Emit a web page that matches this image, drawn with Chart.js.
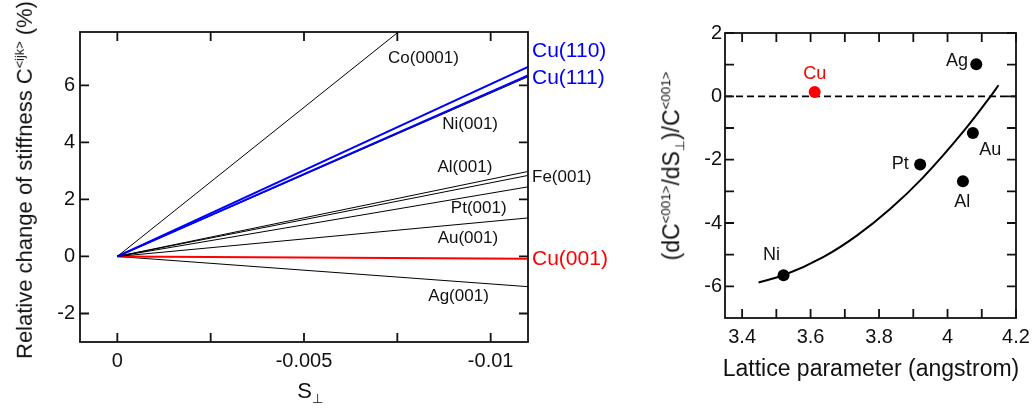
<!DOCTYPE html>
<html>
<head>
<meta charset="utf-8">
<script src="https://cdn.jsdelivr.net/npm/chart.js@4.4.1/dist/chart.umd.min.js"></script>
<style>
  html, body { margin: 0; padding: 0; background: #fff; }
  #page { position: relative; width: 1032px; height: 408px; overflow: hidden;
          font-family: "Liberation Sans", Arial, sans-serif; color: #111; }
  canvas { position: absolute; top: 0; }
  #stiffChart { left: 0; }
  #ratioChart { left: 640px; }
  .title { position: absolute; white-space: nowrap; line-height: 1; font-size: 22px;
           transform: translate(-50%, -50%); }
  .title.rot { transform: translate(-50%, -50%) rotate(-90deg); }
  .title sup, .title sub { font-size: 0.58em; }
</style>
</head>
<body>
<div id="page">
  <canvas id="stiffChart" width="640" height="408"></canvas>
  <canvas id="ratioChart" width="392" height="408"></canvas>
  <div class="title rot" style="left:25px; top:180px;">Relative change of stiffness C<sup>&lt;ijk&gt;</sup> (%)</div>
  <div class="title" style="left:310px; top:393px;">S<sub>⊥</sub></div>
  <div class="title rot" style="left:673px; top:166px; font-size:23px;">(dC<sup>&lt;001&gt;</sup>/dS<sub>⊥</sub>)/C<sup>&lt;001&gt;</sup></div>
  <div class="title" style="left:871px; top:368px; font-size:23px;">Lattice parameter (angstrom)</div>
</div>

<script>
// left panel: stiffness change vs strain, straight lines from origin
const lineNames = ['Co(0001)', 'Cu(110)', 'Cu(111)', 'Ni(001)', 'Al(001)', 'Fe(001)', 'Pt(001)', 'Au(001)', 'Cu(001)', 'Ag(001)'];
const strainEnd = -0.011;
const stiffAtEnd = [11.5, 6.65, 6.35, 6.30, 2.98, 2.84, 2.44, 1.35, -0.08, -1.06];
const strainTicks = [0, -0.005, -0.01];
const stiffTicks = [-2, 0, 2, 4, 6];

// right panel: d(C001)/dS / C001 vs lattice parameter
const metals = ['Ni', 'Cu', 'Pt', 'Al', 'Au', 'Ag'];
const latticeA = [3.521, 3.612, 3.920, 4.045, 4.074, 4.084];
const slopeRatio = [-5.65, 0.14, -2.15, -2.68, -1.16, 1.01];
const fitA = [3.448, 3.521, 3.638, 3.736, 3.833, 3.926, 4.047, 4.125, 4.149];
const fitRatio = [-5.88, -5.65, -5.07, -4.39, -3.55, -2.59, -1.10, -0.01, 0.35];
const latticeTicks = [3.4, 3.6, 3.8, 4, 4.2];
const ratioTicks = [-6, -4, -2, 0, 2];

const lineColors = ['#000', '#0000ff', '#0000ff', '#000', '#000', '#000', '#000', '#000', '#ff0000', '#000'];
const lineWidths = [1, 2, 2, 1, 1, 1, 1, 1, 2, 1];
const FONT = '"Liberation Sans", Arial, sans-serif';
const INK = '#111';

function makeFrame(xMarks, yMarks) {
    return {
        id: 'frame',
        afterDatasetsDraw(chart) {
            const { ctx, chartArea: a, scales: { x, y } } = chart;
            const len = 9;
            ctx.save();
            ctx.strokeStyle = INK;
            ctx.lineWidth = 1.8;
            ctx.beginPath();
            xMarks.forEach(v => {
                const px = x.getPixelForValue(v);
                ctx.moveTo(px, a.bottom); ctx.lineTo(px, a.bottom - len);
                ctx.moveTo(px, a.top); ctx.lineTo(px, a.top + len);
            });
            yMarks.forEach(v => {
                const py = y.getPixelForValue(v);
                ctx.moveTo(a.left, py); ctx.lineTo(a.left + len, py);
                ctx.moveTo(a.right, py); ctx.lineTo(a.right - len, py);
            });
            ctx.stroke();
            ctx.strokeRect(a.left, a.top, a.right - a.left, a.bottom - a.top);
            ctx.restore();
        }
    };
}

function makeLabels(items) {
    return {
        id: 'labels',
        afterDatasetsDraw(chart) {
            const { ctx, chartArea: a, scales: { x, y } } = chart;
            ctx.save();
            ctx.textBaseline = 'middle';
            items.forEach(it => {
                ctx.font = it.size + 'px ' + FONT;
                ctx.fillStyle = it.color || INK;
                ctx.textAlign = it.edge ? 'left' : 'center';
                const px = it.edge ? a.right + 4 : x.getPixelForValue(it.x);
                ctx.fillText(it.text, px, y.getPixelForValue(it.y));
            });
            ctx.restore();
        }
    };
}

function stepMarks(from, to, step) {
    const out = [];
    for (let v = from; v <= to + 1e-9; v += step) out.push(+v.toFixed(4));
    return out;
}

const tickFont = { family: FONT, size: 20 };

// left chart
const stiffLabels = [
    { text: 'Co(0001)', x: -0.0082, y: 6.96, size: 17 },
    { text: 'Ni(001)', x: -0.00945, y: 4.65, size: 17 },
    { text: 'Al(001)', x: -0.00931, y: 3.11, size: 17 },
    { text: 'Pt(001)', x: -0.00968, y: 1.70, size: 17 },
    { text: 'Au(001)', x: -0.00939, y: 0.62, size: 17 },
    { text: 'Ag(001)', x: -0.00914, y: -1.39, size: 17 },
    { text: 'Cu(110)', edge: true, y: 7.18, size: 21, color: '#0000ff' },
    { text: 'Cu(111)', edge: true, y: 6.25, size: 21, color: '#0000ff' },
    { text: 'Fe(001)', edge: true, y: 2.78, size: 17 },
    { text: 'Cu(001)', edge: true, y: -0.10, size: 21, color: '#ff0000' }
];

new Chart(document.getElementById('stiffChart'), {
    type: 'scatter',
    data: {
        datasets: lineNames.map((name, i) => ({
            label: name,
            data: [{ x: 0, y: 0 }, { x: strainEnd, y: stiffAtEnd[i] }],
            showLine: true,
            borderColor: lineColors[i],
            borderWidth: lineWidths[i],
            pointRadius: 0
        }))
    },
    options: {
        responsive: false,
        animation: false,
        layout: { padding: { left: 0, top: 32, right: 112, bottom: 0 } },
        plugins: { legend: { display: false }, tooltip: { enabled: false } },
        scales: {
            x: {
                type: 'linear', reverse: true, min: -0.011, max: 0.001,
                grid: { display: false, drawTicks: false }, border: { display: false },
                afterBuildTicks: s => { s.ticks = strainTicks.map(v => ({ value: v })); },
                afterFit: s => { s.height = 66; s.paddingLeft = 0; s.paddingRight = 0; },
                ticks: { font: tickFont, color: INK, padding: 7, maxRotation: 0, autoSkip: false,
                         callback: v => v === 0 ? '0' : String(+v.toFixed(4)) }
            },
            y: {
                type: 'linear', min: -3, max: 7.87,
                grid: { display: false, drawTicks: false }, border: { display: false },
                afterBuildTicks: s => { s.ticks = stiffTicks.map(v => ({ value: v })); },
                afterFit: s => { s.width = 80; },
                ticks: { font: tickFont, color: INK, padding: 5, callback: v => String(v) }
            }
        }
    },
    plugins: [makeFrame(stepMarks(-0.01, 0, 0.0025), stiffTicks), makeLabels(stiffLabels)]
});

// right chart
const ratioLabels = [
    { text: 'Cu', x: 3.612, y: 0.69, size: 18, color: '#ff0000' },
    { text: 'Ag', x: 4.028, y: 1.12, size: 18 },
    { text: 'Au', x: 4.125, y: -1.70, size: 18 },
    { text: 'Pt', x: 3.862, y: -2.13, size: 18 },
    { text: 'Al', x: 4.043, y: -3.33, size: 18 },
    { text: 'Ni', x: 3.486, y: -5.02, size: 18 }
];

new Chart(document.getElementById('ratioChart'), {
    type: 'scatter',
    data: {
        datasets: [
            {
                label: 'metals',
                data: metals.map((m, i) => ({ x: latticeA[i], y: slopeRatio[i] })),
                pointRadius: 6,
                pointBorderWidth: 0,
                pointBackgroundColor: metals.map(m => m === 'Cu' ? '#ff0000' : '#000'),
                order: 0
            },
            {
                label: 'fit',
                data: fitA.map((a, i) => ({ x: a, y: fitRatio[i] })),
                showLine: true,
                borderColor: '#000',
                borderWidth: 2,
                pointRadius: 0,
                cubicInterpolationMode: 'monotone',
                order: 1
            },
            {
                label: 'zero',
                data: [{ x: 3.35, y: 0 }, { x: 4.2, y: 0 }],
                showLine: true,
                borderColor: '#000',
                borderWidth: 1.6,
                borderDash: [7, 4],
                pointRadius: 0,
                order: 2
            }
        ]
    },
    options: {
        responsive: false,
        animation: false,
        layout: { padding: { left: 0, top: 33, right: 16, bottom: 0 } },
        plugins: { legend: { display: false }, tooltip: { enabled: false } },
        scales: {
            x: {
                type: 'linear', min: 3.35, max: 4.2,
                grid: { display: false, drawTicks: false }, border: { display: false },
                afterBuildTicks: s => { s.ticks = latticeTicks.map(v => ({ value: v })); },
                afterFit: s => { s.height = 90; s.paddingLeft = 0; s.paddingRight = 0; },
                ticks: { font: tickFont, color: INK, padding: 7, maxRotation: 0, autoSkip: false,
                         callback: v => String(+v.toFixed(1)) }
            },
            y: {
                type: 'linear', min: -7, max: 2,
                grid: { display: false, drawTicks: false }, border: { display: false },
                afterBuildTicks: s => { s.ticks = ratioTicks.map(v => ({ value: v })); },
                afterFit: s => { s.width = 85; },
                ticks: { font: tickFont, color: INK, padding: 3, callback: v => String(v) }
            }
        }
    },
    plugins: [makeFrame(stepMarks(3.4, 4.2, 0.1), stepMarks(-6, 2, 1)), makeLabels(ratioLabels)]
});
</script>
</body>
</html>
